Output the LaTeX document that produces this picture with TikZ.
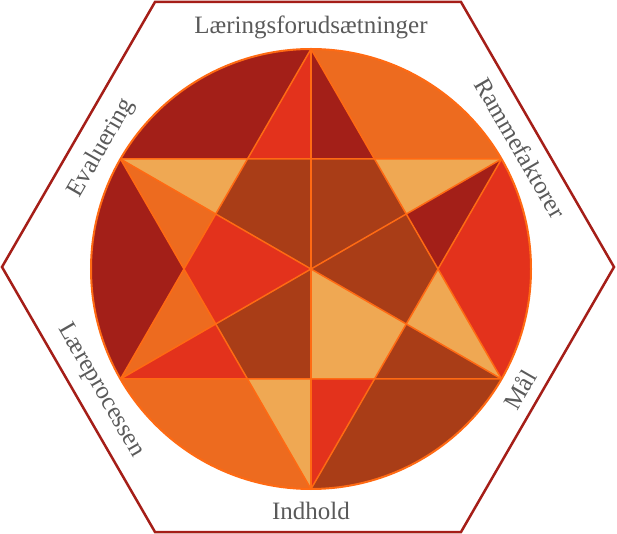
\documentclass[tikz,border=0pt]{standalone}
\usepackage{fontspec}
\setmainfont{Liberation Serif}
\usetikzlibrary{calc}
\definecolor{cdred}{HTML}{A31F18}
\definecolor{cred}{HTML}{E3321C}
\definecolor{corange}{HTML}{ED6B1F}
\definecolor{clight}{HTML}{EFA853}
\definecolor{cbrown}{HTML}{A93D17}
\definecolor{cline}{HTML}{FF6A13}
\definecolor{chex}{HTML}{A51E18}
\definecolor{ctext}{HTML}{5A5A5A}
\tikzset{
  ln/.style={draw=cline, line width=1.5pt, line join=round},
  hexline/.style={draw=chex, line width=2.5pt, line join=miter},
  lbl/.style={text=ctext, font=\fontsize{25}{28}\selectfont, inner sep=0pt, anchor=center}
}
\begin{document}
\begin{tikzpicture}[x=1pt,y=1pt]
\useasboundingbox (-311,-265) rectangle (306,269);
% circle points
\coordinate (C) at (0,0);
\coordinate (T) at (90:220);
\coordinate (UR) at (30:220);
\coordinate (LR) at (-30:220);
\coordinate (B) at (-90:220);
\coordinate (LL) at (-150:220);
\coordinate (UL) at (150:220);
% inner hexagon vertices
\coordinate (H0) at (0:127.017);
\coordinate (H60) at (60:127.017);
\coordinate (H120) at (120:127.017);
\coordinate (H180) at (180:127.017);
\coordinate (H240) at (240:127.017);
\coordinate (H300) at (300:127.017);
% edge midpoints
\coordinate (M30) at (30:110);
\coordinate (M90) at (90:110);
\coordinate (M150) at (150:110);
\coordinate (M210) at (210:110);
\coordinate (M270) at (270:110);
\coordinate (M330) at (330:110);
% segments
\fill[cdred] (UL) arc[start angle=150,end angle=90,radius=220] -- (H120) -- cycle;
\fill[corange] (T) arc[start angle=90,end angle=30,radius=220] -- (H60) -- cycle;
\fill[cred] (UR) arc[start angle=30,end angle=-30,radius=220] -- (H0) -- cycle;
\fill[cbrown] (LR) arc[start angle=-30,end angle=-90,radius=220] -- (H300) -- cycle;
\fill[corange] (B) arc[start angle=-90,end angle=-150,radius=220] -- (H240) -- cycle;
\fill[cdred] (LL) arc[start angle=210,end angle=150,radius=220] -- (H180) -- cycle;
% star point triangles
\fill[cred] (T) -- (H120) -- (M90) -- cycle;
\fill[cdred] (T) -- (M90) -- (H60) -- cycle;
\fill[clight] (UR) -- (H60) -- (M30) -- cycle;
\fill[cdred] (UR) -- (M30) -- (H0) -- cycle;
\fill[clight] (LR) -- (H0) -- (M330) -- cycle;
\fill[cbrown] (LR) -- (M330) -- (H300) -- cycle;
\fill[cred] (B) -- (H300) -- (M270) -- cycle;
\fill[clight] (B) -- (M270) -- (H240) -- cycle;
\fill[cred] (LL) -- (H240) -- (M210) -- cycle;
\fill[corange] (LL) -- (M210) -- (H180) -- cycle;
\fill[corange] (UL) -- (H180) -- (M150) -- cycle;
\fill[clight] (UL) -- (M150) -- (H120) -- cycle;
% kites
\fill[cbrown] (C) -- (M90) -- (H60) -- (M30) -- cycle;
\fill[cbrown] (C) -- (M30) -- (H0) -- (M330) -- cycle;
\fill[clight] (C) -- (M330) -- (H300) -- (M270) -- cycle;
\fill[cbrown] (C) -- (M270) -- (H240) -- (M210) -- cycle;
\fill[cred] (C) -- (M210) -- (H180) -- (M150) -- cycle;
\fill[cbrown] (C) -- (M150) -- (H120) -- (M90) -- cycle;
% lines
\draw[ln] (T) -- (B);
\draw[ln] (UL) -- (LR);
\draw[ln] (UR) -- (LL);
\draw[ln] (T) -- (LL) -- (LR) -- cycle;
\draw[ln] (B) -- (UL) -- (UR) -- cycle;
\draw[ln, line width=2pt] (C) circle[radius=220];
% hexagon
\coordinate (HC) at (-3,2);
\draw[hexline] ($(HC)+(0:306)$) -- ($(HC)+(60:306)$) -- ($(HC)+(120:306)$) -- ($(HC)+(180:306)$) -- ($(HC)+(240:306)$) -- ($(HC)+(300:306)$) -- cycle;
% labels
\node[lbl] (l1) at (90:242) {Læringsforudsætninger};
\node[lbl, rotate=-60] (l2) at (30:242) {Rammefaktorer};
\node[lbl, rotate=60] (l3) at (-30:241) {Mål};
\node[lbl] (l4) at (-90:242) {Indhold};
\node[lbl, rotate=-60] (l5) at (-150:243) {Læreprocessen};
\node[lbl, rotate=60] (l6) at (150:242) {Evaluering};
\end{tikzpicture}
\end{document}
